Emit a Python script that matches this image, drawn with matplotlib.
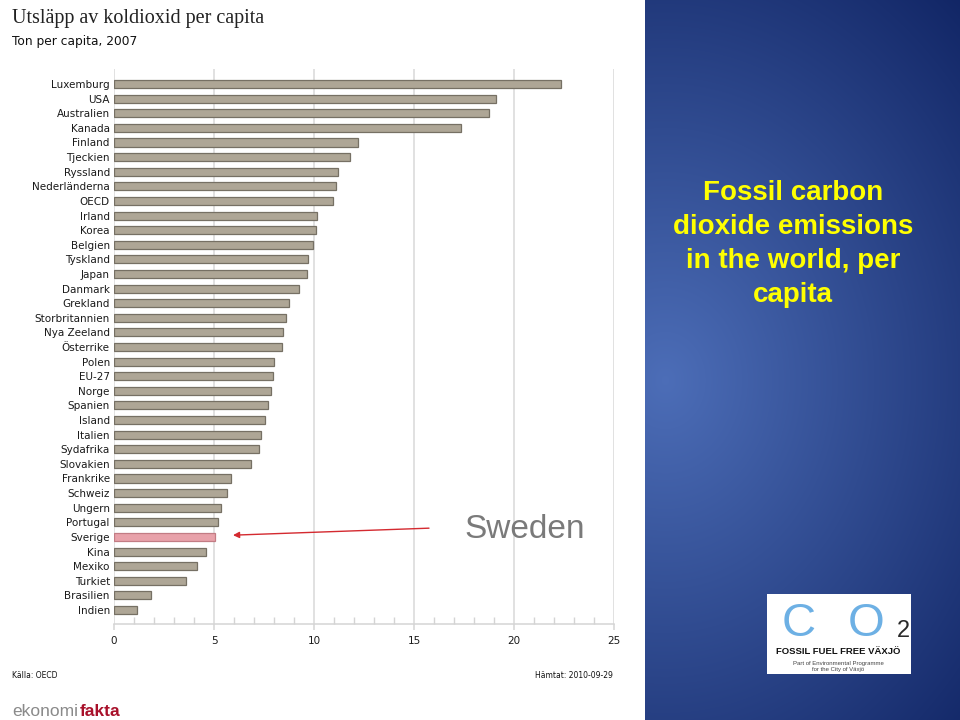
import numpy as np
import matplotlib
matplotlib.use("Agg")
import matplotlib.pyplot as plt
from matplotlib.patches import Rectangle

# data: ton CO2 per capita, 2007
countries = ["Luxemburg", "USA", "Australien", "Kanada", "Finland", "Tjeckien",
             "Ryssland", "Nederländerna", "OECD", "Irland", "Korea", "Belgien",
             "Tyskland", "Japan", "Danmark", "Grekland", "Storbritannien",
             "Nya Zeeland", "Österrike", "Polen", "EU-27", "Norge", "Spanien",
             "Island", "Italien", "Sydafrika", "Slovakien", "Frankrike", "Schweiz",
             "Ungern", "Portugal", "Sverige", "Kina", "Mexiko", "Turkiet",
             "Brasilien", "Indien"]
values = [22.35, 19.08, 18.75, 17.35, 12.22, 11.82, 11.2, 11.1, 10.95, 10.13,
          10.1, 9.97, 9.72, 9.65, 9.23, 8.75, 8.6, 8.47, 8.38, 7.98, 7.93, 7.83,
          7.68, 7.55, 7.37, 7.27, 6.83, 5.83, 5.63, 5.33, 5.2, 5.05, 4.58, 4.13,
          3.6, 1.83, 1.15]
highlight = "Sverige"
xticks = [0, 5, 10, 15, 20, 25]

W, H = 960, 720


def fx(px):
    return px / W


def fy(py):
    return 1 - py / H


fig = plt.figure(figsize=(9.6, 7.2), dpi=100)
fig.patch.set_facecolor("white")

# right hand blue panel with a soft radial gradient
bg = fig.add_axes([fx(645), 0, fx(960) - fx(645), 1])
gx, gy = np.meshgrid(np.arange(315), np.arange(720))
d = np.sqrt(((gx - 20) / 430.0) ** 2 + ((gy - 380) / 520.0) ** 2)
d = np.clip(d, 0, 1)[..., None]
light = np.array([0.30, 0.43, 0.72])
dark = np.array([0.07, 0.15, 0.40])
bg.imshow(light * (1 - d) + dark * d, aspect="auto", extent=[0, 1, 0, 1])
bg.set_axis_off()

# bar chart
ax = fig.add_axes([fx(114), fy(624), fx(614) - fx(114), fy(69) - fy(624)])
y = np.arange(len(countries))
face = ["#e8a2aa" if c == highlight else "#aea696" for c in countries]
edge = ["#c27c84" if c == highlight else "#767064" for c in countries]
ax.barh(y, values, height=0.55, color=face, edgecolor=edge, linewidth=0.9, zorder=2)

ax.set_xlim(0, 25)
ax.set_ylim(len(countries) - 0.04, -1.03)
ax.set_yticks(y, countries)
ax.tick_params(axis="y", length=0, pad=3, labelsize=7.5, labelcolor="#1a1a1a")
ax.set_xticks(xticks)
ax.set_xticks(range(0, 26), minor=True)
ax.tick_params(axis="x", which="major", direction="out", length=4, width=1.1,
               color="#d4d4d4", pad=4.5, labelsize=7.5, labelcolor="#1a1a1a")
ax.tick_params(axis="x", which="minor", direction="in", length=5, width=1.0,
               color="#d4d4d4")
ax.grid(axis="x", which="major", color="#dcdcdc", lw=1.2, zorder=0)
ax.set_axisbelow(True)
for s in ["top", "right", "left"]:
    ax.spines[s].set_visible(False)
ax.spines["bottom"].set_color("#d4d4d4")
ax.spines["bottom"].set_linewidth(1.1)

# arrow pointing at Sweden
i = countries.index(highlight)
ax.annotate("", xy=(values[i] + 0.9, i - 0.12), xytext=(15.75, i - 0.6),
            arrowprops=dict(arrowstyle="-|>", color="#d42a30", lw=1.0,
                            mutation_scale=9, shrinkA=0, shrinkB=0))
fig.text(fx(525), fy(530), "Sweden", ha="center", va="center",
         fontsize=24, color="#7a7a7a", family="Liberation Sans")

# titles and footers
fig.text(fx(12), fy(18), "Utsläpp av koldioxid per capita", ha="left", va="center",
         fontsize=14.5, color="#222222", family="Liberation Serif")
fig.text(fx(12), fy(41), "Ton per capita, 2007", ha="left", va="center",
         fontsize=8.8, color="#111111")
fig.text(fx(12), fy(675), "Källa: OECD", ha="left", va="center",
         fontsize=5.5, color="#111111")
fig.text(fx(613), fy(675), "Hämtat: 2010-09-29", ha="right", va="center",
         fontsize=5.5, color="#111111")
fig.text(fx(12), fy(719), "ekonomi", ha="left", va="bottom", fontsize=12.5,
         color="#8a8a8a", family="Liberation Sans")
fig.text(fx(80), fy(719), "fakta", ha="left", va="bottom", fontsize=12.5,
         color="#a8102a", weight="bold", family="Liberation Sans")

# panel heading
fig.text(fx(793), fy(244), "Fossil carbon\ndioxide emissions\nin the world, per\ncapita",
         ha="center", va="center", multialignment="center", linespacing=1.4,
         fontsize=20, weight="bold", color="#ffff00", family="Liberation Sans")

# CO2 logo
fig.add_artist(Rectangle((fx(767), fy(674)), fx(911) - fx(767), fy(594) - fy(674),
                         transform=fig.transFigure, facecolor="white",
                         edgecolor="none", zorder=2))
fig.text(fx(799), fy(636), "C", ha="center", va="baseline", fontsize=34,
         color="#6db0e4", family="Liberation Sans", zorder=3)
fig.text(fx(866), fy(636), "O", ha="center", va="baseline", fontsize=34,
         color="#6db0e4", family="Liberation Sans", zorder=3)
fig.text(fx(903), fy(631), "2", ha="center", va="center", fontsize=17,
         color="#2a2a2a", family="Liberation Sans", zorder=3)
fig.text(fx(838), fy(652), "FOSSIL FUEL FREE VÄXJÖ", ha="center", va="center",
         fontsize=6.8, weight="bold", color="#111111", family="Liberation Sans", zorder=3)
fig.text(fx(838), fy(663), "Part of Environmental Programme", ha="center", va="center",
         fontsize=4.3, color="#444444", family="Liberation Sans", zorder=3)
fig.text(fx(838), fy(670), "for the City of Växjö", ha="center", va="center",
         fontsize=4.3, color="#444444", family="Liberation Sans", zorder=3)

fig.savefig("out.png", dpi=100)
